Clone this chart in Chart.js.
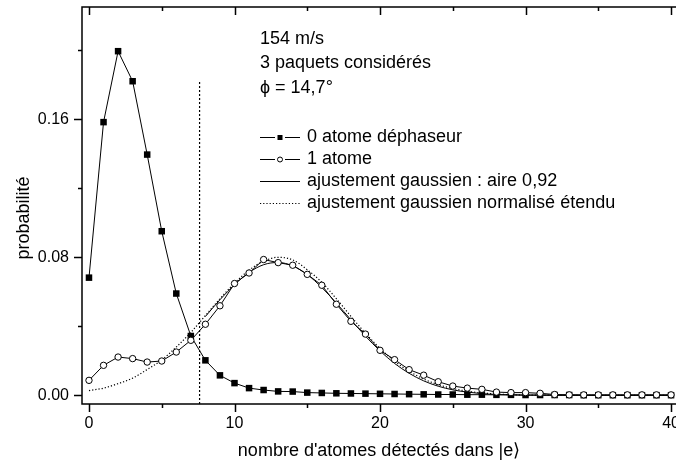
<!DOCTYPE html>
<html>
<head>
<meta charset="utf-8">
<script src="https://cdn.jsdelivr.net/npm/chart.js@4.4.0/dist/chart.umd.min.js"></script>
<style>
  html, body { margin: 0; padding: 0; background: #fff; }
</style>
</head>
<body>
<canvas id="chart" width="676" height="466"></canvas>
<script>
// nombre d'atomes détectés (0..40)
const atoms = [0, 1, 2, 3, 4, 5, 6, 7, 8, 9, 10, 11, 12, 13, 14, 15, 16, 17, 18, 19, 20,
               21, 22, 23, 24, 25, 26, 27, 28, 29, 30, 31, 32, 33, 34, 35, 36, 37, 38, 39, 40];

// 0 atome déphaseur (carrés pleins)
const zeroAtom = [0.0682, 0.1583, 0.1994, 0.1820, 0.1395, 0.0951, 0.0590, 0.0344, 0.0203, 0.0116, 0.0071,
                  0.0042, 0.0031, 0.0023, 0.0022, 0.0016, 0.0014, 0.0012, 0.0011, 0.0010, 0.0009,
                  0.0008, 0.0007, 0.0006, 0.0005, 0.0005, 0.0004, 0.0004, 0.0003, 0.0003, 0.0002,
                  0.0002, 0.0002, 0.0002, 0.0001, 0.0001, 0.0001, 0.0001, 0.0001, 0.0001, 0.0001];

// 1 atome (cercles vides)
const oneAtom = [0.0087, 0.0174, 0.0222, 0.0213, 0.0193, 0.0199, 0.0251, 0.0319, 0.0412, 0.0519, 0.0648,
                 0.0709, 0.0787, 0.0769, 0.0754, 0.0701, 0.0638, 0.0528, 0.0429, 0.0355, 0.0261,
                 0.0207, 0.0149, 0.0117, 0.0079, 0.0054, 0.0042, 0.0035, 0.0019, 0.0016, 0.0016,
                 0.0012, 0.0005, 0.0003, 0.0003, 0.0003, 0.0003, 0.0003, 0.0003, 0.0003, 0.0003];

// ajustement gaussien : aire 0,92 (commence vers x = 8)
const fitX = [8, 9, 10, 11, 12, 13, 14, 15, 16, 17, 18, 19, 20, 21, 22, 23, 24,
              25, 26, 27, 28, 29, 30, 31, 32, 33, 34, 35, 36, 37, 38, 39, 40];
const fitY = [0.0457, 0.0554, 0.0641, 0.0712, 0.0757, 0.0770, 0.0750, 0.0700, 0.0625, 0.0535, 0.0438,
              0.0343, 0.0258, 0.0185, 0.0128, 0.0084, 0.0053, 0.0032, 0.0019, 0.0010, 0.0005,
              0.0003, 0.0001, 0.0001, 0, 0, 0, 0, 0, 0, 0, 0, 0];

// ajustement gaussien normalisé étendu (0..40)
const normY = [0.0028, 0.0042, 0.0068, 0.0100, 0.0150, 0.0205, 0.0280, 0.0365, 0.0462, 0.0560, 0.0650,
               0.0725, 0.0777, 0.0800, 0.0785, 0.0728, 0.0655, 0.0560, 0.0458, 0.0360, 0.0272,
               0.0198, 0.0140, 0.0095, 0.0062, 0.0040, 0.0024, 0.0014, 0.0008, 0.0004, 0.0002,
               0.0001, 0.0001, 0, 0, 0, 0, 0, 0, 0, 0];

// seuil vertical en pointillés
const cutX = 7.6;
const cutTop = 0.182;

const xRange = [-0.48, 40.34];
const yRange = [-0.005, 0.225];

const headerLines = ['154 m/s', '3 paquets considérés', '\u03D5 = 14,7°'];

const FONT = '"Liberation Sans", Arial, sans-serif';

const pts = (xs, ys) => xs.map((v, i) => ({ x: v, y: ys[i] }));

// cadre, graduations, titre vertical et légende dessinés à la main
const framePlugin = {
    id: 'frame',
    afterDraw(chart) {
        const { ctx, chartArea: a, scales: { x, y } } = chart;
        ctx.save();
        ctx.strokeStyle = '#000';
        ctx.lineWidth = 1.5;
        ctx.beginPath();
        ctx.moveTo(a.right, a.top);
        ctx.lineTo(a.left, a.top);
        ctx.lineTo(a.left, a.bottom);
        ctx.lineTo(a.right, a.bottom);
        x.ticks.forEach(t => {
            const px = Math.round(x.getPixelForValue(t.value)) + 0.5;
            const len = t.label ? 8 : 4;
            ctx.moveTo(px, a.bottom);
            ctx.lineTo(px, a.bottom + len);
            ctx.moveTo(px, a.top);
            ctx.lineTo(px, a.top + len);
        });
        y.ticks.forEach(t => {
            const py = Math.round(y.getPixelForValue(t.value)) + 0.5;
            const len = t.label ? 8 : 4;
            ctx.moveTo(a.left, py);
            ctx.lineTo(a.left - len, py);
        });
        ctx.stroke();

        // titre de l'axe y
        ctx.fillStyle = '#000';
        ctx.font = '18px ' + FONT;
        ctx.textAlign = 'center';
        ctx.textBaseline = 'middle';
        ctx.save();
        ctx.translate(24, 218);
        ctx.rotate(-Math.PI / 2);
        ctx.fillText('probabilité', 0, 0);
        ctx.restore();

        // texte d'en-tête
        ctx.textAlign = 'left';
        const tx = 260;
        [39, 63, 88].forEach((yy, i) => ctx.fillText(headerLines[i], tx, yy));

        // légende
        const rows = [137, 159, 181, 203];
        const textX = 307;
        chart.data.datasets.slice(0, 4).forEach(ds => {
            const yy = rows[ds.legendRow];
            ctx.save();
            ctx.lineWidth = 1;
            ctx.strokeStyle = '#000';
            ctx.setLineDash(ds.borderDash || []);
            ctx.beginPath();
            if (ds.pointRadius > 0) {
                ctx.moveTo(tx, yy + 0.5); ctx.lineTo(tx + 15, yy + 0.5);
                ctx.moveTo(tx + 25, yy + 0.5); ctx.lineTo(tx + 40, yy + 0.5);
                ctx.stroke();
                ctx.beginPath();
                if (ds.pointStyle === 'rect') {
                    ctx.fillStyle = '#000';
                    ctx.fillRect(tx + 17.5, yy - 2, 5, 5);
                } else {
                    ctx.fillStyle = '#fff';
                    ctx.arc(tx + 20, yy + 0.5, 2.5, 0, Math.PI * 2);
                    ctx.fill();
                    ctx.stroke();
                }
            } else {
                ctx.moveTo(tx, yy + 0.5); ctx.lineTo(tx + 40, yy + 0.5);
                ctx.stroke();
            }
            ctx.restore();
            ctx.fillText(ds.label, textX, yy);
        });
        ctx.restore();
    }
};

const ctx = document.getElementById('chart').getContext('2d');
const chart = new Chart(ctx, {
    type: 'line',
    data: {
        datasets: [{
            label: '1 atome',
            legendRow: 1,
            data: pts(atoms, oneAtom),
            borderColor: '#000',
            borderWidth: 1,
            pointStyle: 'circle',
            pointRadius: 3.2,
            pointBorderWidth: 1,
            pointBackgroundColor: '#fff',
            pointBorderColor: '#000',
            tension: 0,
            order: 0
        }, {
            label: '0 atome déphaseur',
            legendRow: 0,
            data: pts(atoms, zeroAtom),
            borderColor: '#000',
            borderWidth: 1,
            pointStyle: 'rect',
            pointRadius: 4.6,
            pointBorderWidth: 0,
            pointBackgroundColor: '#000',
            pointBorderColor: '#000',
            tension: 0,
            order: 1
        }, {
            label: 'ajustement gaussien : aire 0,92',
            legendRow: 2,
            data: pts(fitX, fitY),
            borderColor: '#000',
            borderWidth: 1,
            pointRadius: 0,
            cubicInterpolationMode: 'monotone',
            order: 2
        }, {
            label: 'ajustement gaussien normalisé étendu',
            legendRow: 3,
            data: pts(atoms, normY),
            borderColor: '#000',
            borderWidth: 1.2,
            borderDash: [1.2, 2],
            pointRadius: 0,
            cubicInterpolationMode: 'monotone',
            order: 3
        }, {
            label: 'seuil',
            data: [{ x: cutX, y: yRange[0] }, { x: cutX, y: cutTop }],
            borderColor: '#000',
            borderWidth: 1.2,
            borderDash: [2, 2],
            pointRadius: 0,
            order: 4
        }]
    },
    options: {
        responsive: false,
        animation: false,
        devicePixelRatio: 1,
        layout: { autoPadding: false, padding: { top: 7, left: 0, right: 0, bottom: 0 } },
        plugins: {
            legend: { display: false },
            tooltip: { enabled: false }
        },
        scales: {
            x: {
                type: 'linear',
                min: xRange[0],
                max: xRange[1],
                grid: { display: false, drawTicks: false },
                border: { display: false },
                ticks: {
                    stepSize: 5,
                    includeBounds: false,
                    autoSkip: false,
                    maxRotation: 0,
                    padding: 10,
                    color: '#000',
                    font: { family: FONT, size: 16 },
                    callback: v => (Math.abs(v % 10) < 1e-6 ? String(v) : '')
                },
                title: {
                    display: true,
                    text: "nombre d'atomes détectés dans |e\u27E9",
                    color: '#000',
                    font: { family: FONT, size: 18 },
                    padding: { top: 0, bottom: 4 }
                },
                afterFit: s => { s.height = 62; s.paddingLeft = 0; s.paddingRight = 0; }
            },
            y: {
                type: 'linear',
                min: yRange[0],
                max: yRange[1],
                grid: { display: false, drawTicks: false },
                border: { display: false },
                ticks: {
                    stepSize: 0.04,
                    includeBounds: false,
                    padding: 13,
                    color: '#000',
                    font: { family: FONT, size: 16 },
                    callback: v => {
                        const r = v / 0.08;
                        return Math.abs(r - Math.round(r)) < 1e-6 ? v.toFixed(2) : '';
                    }
                },
                afterFit: s => { s.width = 82; s.paddingTop = 0; s.paddingBottom = 0; }
            }
        }
    },
    plugins: [framePlugin]
});
</script>
</body>
</html>
